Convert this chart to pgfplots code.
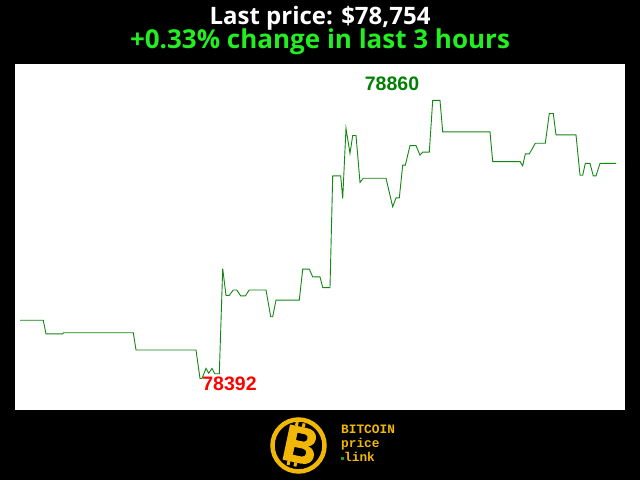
\documentclass[border=0pt]{standalone}
\usepackage{pgfplots}
\pgfplotsset{compat=1.18}
\usepackage{fontspec}
\setmainfont{Open Sans}
\newfontfamily\labfont{Liberation Sans}
\newfontfamily\monofont{Liberation Mono}
\definecolor{bg}{RGB}{0,0,0}
\definecolor{linegreen}{RGB}{20,135,20}
\definecolor{labgreen}{RGB}{0,128,0}
\definecolor{titlegreen}{RGB}{34,238,34}
\definecolor{gold}{RGB}{242,183,5}
\definecolor{dotgreen}{RGB}{30,160,30}
\pgfplotstableread{
x y
20 78490
43.3 78490
46 78467
62.7 78467
63.5 78469
133.3 78469
136 78440
196 78440
200 78392
202 78392
206 78409
208.7 78401
212 78409
214.7 78400
219.3 78400
222.7 78577
226 78532
229.3 78532
233.3 78541
236.7 78541
240.7 78531
245.3 78531
249.3 78541
266 78541
270.7 78496
272.7 78496
276 78524
299.3 78524
302.7 78576
309.3 78576
312.7 78563
320 78563
322.7 78545
330 78545
332.7 78733
340.7 78733
342.7 78695
346 78813
350 78771
352.7 78801
356 78801
360 78722
363.3 78729
386 78729
392.7 78681
396 78696
399.3 78696
402.7 78751
405.3 78751
410 78784
416 78784
420 78768
422.7 78773
429.3 78773
432.7 78860
440 78860
442.7 78807
490 78807
492.7 78757
520 78757
522.7 78750
525.3 78770
529.3 78770
535.3 78788
545.3 78788
549.3 78838
553.3 78838
556 78802
576 78802
580 78734
582.7 78734
585.3 78754
590 78754
593.3 78733
596 78733
600 78754
616 78754
}\pricedata
\begin{document}
\begin{tikzpicture}[x=1pt,y=1pt]
\fill[bg] (0,0) rectangle (640,480);
\fill[white] (15,70) rectangle (625,416);
\node[anchor=base, inner sep=0pt, text=white, font=\fontsize{24}{28}\selectfont\bfseries] at (320,455) {Last price: \$78,754};
\node[anchor=base, inner sep=0pt, text=titlegreen, font=\fontsize{26}{30}\selectfont\bfseries] at (320,431) {+0.33\% change in last 3 hours};
\begin{axis}[
  at={(15pt,70pt)}, anchor=south west,
  scale only axis, width=610pt, height=346pt,
  xmin=15, xmax=625, ymin=78339, ymax=78921.3,
  hide axis, clip=false,
]
\addplot[linegreen, line width=0.9pt, mark=none] table[x=x,y=y] {\pricedata};
\node[anchor=base, text=labgreen, font=\labfont\fontsize{19.5}{22}\selectfont\bfseries] at (axis cs:392,78876) {78860};
\node[anchor=base, text=red, font=\labfont\fontsize{19.5}{22}\selectfont\bfseries] at (axis cs:229.5,78371) {78392};
\end{axis}
% logo
\draw[gold, line width=4.5pt] (298.5,34.5) circle (26);
\begin{scope}[rotate around={-12:(300,35)}]
\fill[gold, even odd rule]
  (286,17) -- (286,53) -- (304,53) .. controls (317,53) and (317,37) .. (308,35.5)
  .. controls (319,34) and (319,17) .. (305,17) -- cycle
  (295,39) -- (295,46.5) -- (303,46.5) .. controls (307,46.5) and (307,39) .. (303,39) -- cycle
  (295,24) -- (295,32) -- (304,32) .. controls (309,32) and (309,24) .. (304,24) -- cycle;
\fill[gold] (291,53) rectangle (294,57);
\fill[gold] (298,53) rectangle (301,57);
\fill[gold] (291,13) rectangle (294,17);
\fill[gold] (298,13) rectangle (301,17);
\end{scope}
\node[anchor=base west, inner sep=0pt, text=gold, font=\monofont\fontsize{12.8}{13}\selectfont\bfseries] at (341,47) {BITCOIN};
\node[anchor=base west, inner sep=0pt, text=gold, font=\monofont\fontsize{12.8}{13}\selectfont\bfseries] at (341,33) {price};
\node[anchor=base west, inner sep=0pt, text=gold, font=\monofont\fontsize{12.8}{13}\selectfont\bfseries] at (341,19) {\textcolor{dotgreen}{\raisebox{1pt}{\rule{3pt}{3pt}}}link};
\end{tikzpicture}
\end{document}
